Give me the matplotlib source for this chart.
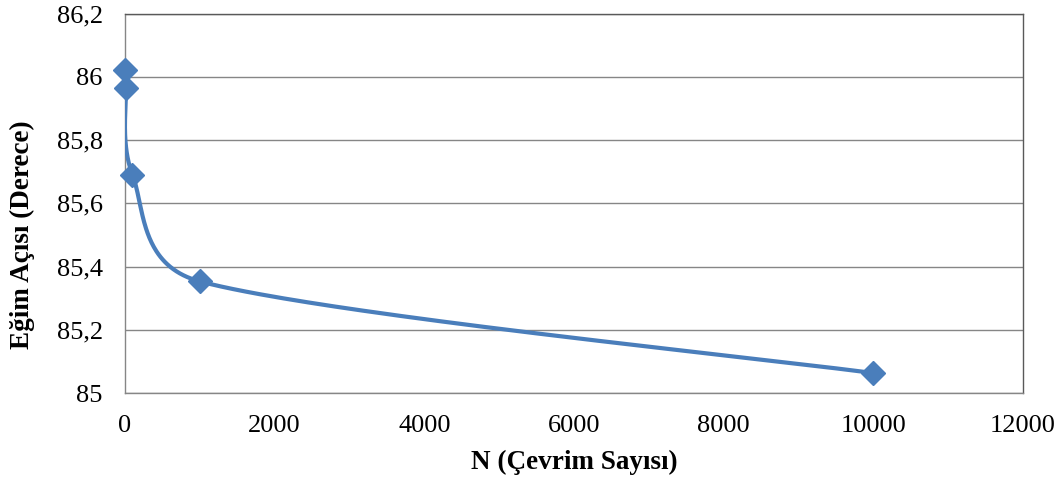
import numpy as np
import matplotlib
matplotlib.use('Agg')
import matplotlib.pyplot as plt
from matplotlib.ticker import FuncFormatter, MultipleLocator

# ==================== データ ====================
cycles = [1, 10, 100, 1000, 10000]
angles = [86.02, 85.965, 85.69, 85.353, 85.063]

x_ticks = [0, 2000, 4000, 6000, 8000, 10000, 12000]
y_min, y_max = 85.0, 86.2

blue = '#4A7EBB'
grid_col = '#868686'

plt.rcParams['font.family'] = ['Liberation Serif', 'DejaVu Serif']

fig = plt.figure(figsize=(10.62, 4.83), dpi=100)
ax = fig.add_axes([0.1177, 0.1863, 0.8456, 0.7857])
ax.set_xlim(0, 12000)
ax.set_ylim(y_min, y_max)


# Excel風のスムージング曲線（表示座標でベジェ、腕の長さは区間長の半分まで）
def smooth_curve(xs, ys, n=80, f=1.0 / 6):
    pts = ax.transData.transform(np.column_stack([xs, ys]))
    m = len(pts)
    out = [pts[0]]
    for i in range(m - 1):
        p0 = pts[max(i - 1, 0)]
        p1, p2 = pts[i], pts[i + 1]
        p3 = pts[min(i + 2, m - 1)]
        half = np.hypot(*(p2 - p1)) / 2
        a = (p2 - p0) * f
        b = (p3 - p1) * f
        la, lb = np.hypot(*a), np.hypot(*b)
        if la > half:
            a = a * half / la
        if lb > half:
            b = b * half / lb
        c1 = p1 + a
        c2 = p2 - b
        t = np.linspace(0, 1, n)[1:, None]
        seg = ((1 - t) ** 3) * p1 + 3 * ((1 - t) ** 2) * t * c1 + 3 * (1 - t) * t ** 2 * c2 + t ** 3 * p2
        out.extend(seg)
    return ax.transData.inverted().transform(np.array(out))


curve = smooth_curve(cycles, angles)
ax.plot(curve[:, 0], curve[:, 1], color=blue, linewidth=3.0, solid_capstyle='round', zorder=3)
ax.plot(cycles, angles, linestyle='none', marker='D', markersize=12.5,
        color=blue, markeredgecolor=blue, zorder=4, clip_on=False)

ax.set_xticks(x_ticks)
ax.yaxis.set_major_locator(MultipleLocator(0.2))
ax.yaxis.set_major_formatter(FuncFormatter(lambda v, p: f'{v:.1f}'.rstrip('0').rstrip('.').replace('.', ',')))
ax.tick_params(axis='both', length=0, labelsize=19, colors='black')
ax.tick_params(axis='x', pad=16)
ax.tick_params(axis='y', pad=16)

ax.grid(True, axis='y', color=grid_col, linewidth=1.0)
ax.set_axisbelow(True)
for side in ['left', 'bottom']:
    ax.spines[side].set_color('#868686')
for side in ['top', 'right']:
    ax.spines[side].set_color('#595959')
for s in ax.spines.values():
    s.set_linewidth(1.0)

ax.set_xlabel('N (Çevrim Sayısı)', fontsize=19.5, fontweight='bold')
ax.set_ylabel('Eğim Açısı (Derece)', fontsize=19.5, fontweight='bold')
ax.xaxis.set_label_coords(0.5, -0.184)
ax.yaxis.set_label_coords(-0.1147, 0.416)
ax.xaxis.label.set_verticalalignment('center')
ax.yaxis.label.set_verticalalignment('center')

plt.savefig('out.png', dpi=100)
